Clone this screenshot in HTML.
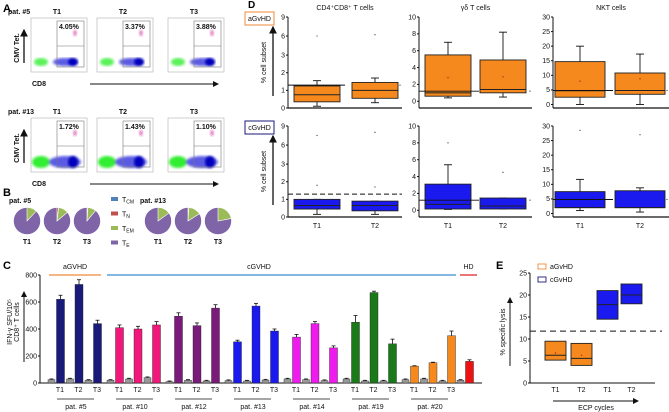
<!DOCTYPE html>
<html><head><meta charset="utf-8"><style>
body{margin:0;background:#fff}
svg{display:block;font-family:"Liberation Sans",sans-serif}
.t{font-size:7px;fill:#111}
.b{font-weight:bold}
</style></head><body>
<svg id="s" width="669" height="412" viewBox="0 0 669 412">
<defs>
<marker id="ah" markerWidth="6" markerHeight="6" refX="5" refY="3" orient="auto"><path d="M0,0 L6,3 L0,6z" fill="#111"/></marker>
<filter id="bl"><feGaussianBlur stdDeviation="1.2"/></filter>
</defs>
<text x="3" y="12" font-size="11" font-weight="bold">A</text>
<text x="3" y="196" font-size="11" font-weight="bold">B</text>
<text x="3" y="269" font-size="11" font-weight="bold">C</text>
<text x="248" y="8" font-size="10" font-weight="bold">D</text>
<text x="496" y="269" font-size="11" font-weight="bold">E</text>
<g id="A"></g><g id="B"></g><g id="C"></g><g id="D"></g><g id="E"></g>
</svg>
<script>
// ---------- Panel A data ----------
const flowPatients=["pat. #5","pat. #13"];
const flowTimes=["T1","T2","T3"];
const flowPct=[["4.05%","3.37%","3.88%"],["1.72%","1.43%","1.10%"]];
// ---------- Panel B data ----------
const pieLegend=["TCM","TN","TEM","TE"];
const pieTN=[[0,2,1],[0,1,0]];
const pieTEM=[[12,12,10],[15,15,22]];
// ---------- Panel C data ----------
const cPatients=["pat. #5","pat. #10","pat. #12","pat. #13","pat. #14","pat. #19","pat. #20"];
const cStim=[[620,730,440],[410,400,430],[495,425,555],[305,570,385],[340,440,260],[450,670,290],[125,150,350]];
const cErr=[[30,35,25],[20,20,25],[25,20,25],[12,20,15],[20,15,15],[50,10,35],[3,4,35]];
const cCtrl=[[25,30,20],[20,30,40],[10,20,15],[18,15,22],[30,25,18],[30,15,15],[25,30,15]];
const cHD=[160]; const cHDctrl=[20];
const cTicks=[0,200,400,600,800];
// ---------- Panel D data ----------
const dTitles=["CD4⁺CD8⁺ T cells","γδ T cells","NKT cells"];
const dAcute=[[[0.1,0.35,0.75,1.25,1.55],[0.3,0.55,1.0,1.45,1.7]],
 [[0.4,0.6,1.0,5.5,7.0,2.8],[0.5,1.0,1.4,4.9,8.2,2.9]],
 [[0,2.5,4.7,14.7,20,8],[0,3.5,4.8,10.8,17.3,8.8]]];
const dChronic=[[[0.15,0.45,0.65,1.0,1.0],[0.15,0.35,0.65,0.9,0.9]],
 [[0.1,0.15,0.7,3.1,5.4],[0.15,0.15,0.5,1.45,1.45]],
 [[1,2,2,7.5,11.7],[0.5,2,2,7.8,8.8]]];
const dOutA=[[[6],[6.2]],[[],[]],[[],[]]];
const dOutC=[[[1.8,7.5],[1.7,8]],[[8],[4.5]],[[28.5],[27]]];
const dHD=[1.3,1.2,4.8];
const dTicks=[[0,1,2,3,6,9],[0,2,4,6,8,10],[0,5,10,15,20,25,30]];
// ---------- Panel E data ----------
const eGroups=["aGvHD","aGvHD","cGvHD","cGvHD"];
const eLabels=["T1","T2","T1","T2"];
const eBox=[[5.2,6.3,9.5],[4,5.6,9],[14.5,17.8,21],[18,20,22.5]];
const eMean=[6.8,6.3];
const eTicks=[0,5,10,15,20,25];
const eHD=[11.8];

const NS="http://www.w3.org/2000/svg";
function mk(p,tag,a,txt){const e=document.createElementNS(NS,tag);for(const k in a)e.setAttribute(k,a[k]);if(txt!=null)e.textContent=txt;p.appendChild(e);return e;}

// ===== Panel A =====
const A=document.getElementById('A');
const plotX=[31,97,168], plotY=[18,118], pw=56, ph=54;
flowPatients.forEach((p,r)=>{
 let e=mk(A,'text',{x:8,y:plotY[r]-4,class:'t b','font-size':7},p);
 
 e=mk(A,'line',{x1:24,y1:plotY[r]+45,x2:24,y2:plotY[r]+12,stroke:'#111','stroke-width':1.3,'marker-end':'url(#ah)'});
 
 e=mk(A,'text',{x:0,y:0,class:'t b',transform:`translate(19,${plotY[r]+30}) rotate(-90)`,'text-anchor':'middle'},'CMV Tet.');
 
 e=mk(A,'line',{x1:90,y1:plotY[r]+66,x2:218,y2:plotY[r]+66,stroke:'#111','stroke-width':1,'marker-end':'url(#ah)'});
 
 e=mk(A,'text',{x:32,y:plotY[r]+68,class:'t b'},'CD8');
 
 flowTimes.forEach((t,c)=>{
  const x=plotX[c],y=plotY[r];
  const g=mk(A,'g',{});
  mk(g,'text',{x:x+pw/2-2,y:y-4,class:'t b','text-anchor':'middle'},t);
  mk(g,'rect',{x,y,width:pw,height:ph,fill:'#fff',stroke:'#bbb','stroke-width':0.7});
  const big=r==1;
  mk(g,'ellipse',{cx:x+10,cy:y+ph-10,rx:big?9:7,ry:big?6:4,fill:'#33ee33',filter:'url(#bl)',opacity:big?1:0.8});
  mk(g,'ellipse',{cx:x+34,cy:y+ph-10,rx:big?16:12,ry:big?6:4,fill:'#3333dd',filter:'url(#bl)',opacity:0.8});
  mk(g,'ellipse',{cx:x+42,cy:y+ph-10,rx:5,ry:big?6:4,fill:'#0000bb',filter:'url(#bl)'});
  mk(g,'ellipse',{cx:x+44,cy:y+15,rx:2,ry:3,fill:'#e080c0',filter:'url(#bl)'});
  mk(g,'rect',{x:x+26,y:y+3,width:27,height:46,fill:'none',stroke:'#777','stroke-width':0.6});
  mk(g,'line',{x1:x+26,y1:y+28,x2:x+53,y2:y+28,stroke:'#777','stroke-width':0.6});
  mk(g,'text',{x:x+28,y:y+11,class:'t b'},flowPct[r][c]);
 });
});

// ===== Panel B =====
const B=document.getElementById('B');
const pieCx=[[27,57,87],[158,188,218]], pieCy=221, pr=13.5;
function arcPath(cx,cy,r,a0,a1){const p=a=>[cx+r*Math.sin(a*2*Math.PI/100),cy-r*Math.cos(a*2*Math.PI/100)];const[s0,s1]=p(a0),[e0,e1]=p(a1);return `M${cx},${cy} L${s0},${s1} A${r},${r} 0 ${a1-a0>50?1:0} 1 ${e0},${e1}Z`;}
flowPatients.forEach((p,r)=>{
 let e=mk(B,'text',{x:pieCx[r][0]-18,y:203,class:'t b'},p);
 
 flowTimes.forEach((t,c)=>{
  const cx=pieCx[r][c];const g=mk(B,'g',{});
  
  const tn=pieTN[r][c],tem=pieTEM[r][c];
  mk(g,'circle',{cx,cy:pieCy,r:pr,fill:'#8064a8',stroke:'#fff','stroke-width':0.5});
  if(tn>0)mk(g,'path',{d:arcPath(cx,pieCy,pr,0,tn),fill:'#c0504d',stroke:'#fff','stroke-width':0.6});
  mk(g,'path',{d:arcPath(cx,pieCy,pr,tn,tn+tem),fill:'#9bbb59',stroke:'#fff','stroke-width':0.6});
  mk(g,'text',{x:cx,y:244,class:'t b','text-anchor':'middle'},t);
 });
});
const legCols=['#4f81bd','#c0504d','#9bbb59','#8064a8'],legSub=['CM','N','EM','E'];
pieLegend.forEach((l,i)=>{
 const y=201+i*14.5;const g=mk(B,'g',{});
 
 mk(g,'rect',{x:111,y:y-4,width:7,height:4,fill:legCols[i]});
 const t=mk(g,'text',{x:122,y:y+1,class:'t'},'T');
 mk(t,'tspan',{'font-size':5,dy:1.5},legSub[i]);
});

// ===== Panel C =====
const C=document.getElementById('C');
const cx0=40,cy0=383,cyTop=275;
const cY=v=>cy0-(v/800)*(cy0-cyTop);
const cGX=i=>48+i*59;
const cCols=['#1a1a7a','#f0187a','#7a1a7a','#1a1aee','#ee1aee','#1a7a1a','#f5891e'];
let e=mk(C,'line',{x1:cx0,y1:cyTop,x2:cx0,y2:cy0,stroke:'#111','stroke-width':1});

e=mk(C,'line',{x1:cx0,y1:cy0,x2:482,y2:cy0,stroke:'#111','stroke-width':1});

cTicks.forEach(v=>{
 e=mk(C,'text',{x:cx0-3,y:cY(v)+2.5,class:'t','text-anchor':'end'},v);
 
 mk(C,'line',{x1:cx0-2,y1:cY(v),x2:cx0,y2:cY(v),stroke:'#111'});
});
e=mk(C,'text',{x:0,y:0,class:'t','font-size':6.5,transform:'translate(12,322) rotate(-90)','text-anchor':'middle'},'IFN-γ SFU/10⁵');

e=mk(C,'text',{x:0,y:0,class:'t','font-size':6.5,transform:'translate(19,322) rotate(-90)','text-anchor':'middle'},'CD8⁺ T cells');

e=mk(C,'line',{x1:24,y1:362,x2:24,y2:292,stroke:'#111','stroke-width':1,'marker-end':'url(#ah)'});

function cBar(x,v,err,col,w,name){
 const b=mk(C,'rect',{x,y:cY(v),width:w,height:cy0-cY(v),fill:col,stroke:'#222','stroke-width':0.4});
 
 const m=x+w/2;
 mk(C,'line',{x1:m,y1:cY(v+err),x2:m,y2:cY(v),stroke:'#111','stroke-width':0.8});
 mk(C,'line',{x1:m-2,y1:cY(v+err),x2:m+2,y2:cY(v+err),stroke:'#111','stroke-width':0.8});
}
cPatients.forEach((p,i)=>{
 const gx=cGX(i);
 for(let j=0;j<3;j++){
  const x=gx+j*18.5;
  cBar(x,cCtrl[i][j],5,'#999',7,'control-bar');
  cBar(x+8.5,cStim[i][j],cErr[i][j],cCols[i],8,'ifn-bar');
  e=mk(C,'text',{x:x+12,y:392,class:'t','text-anchor':'middle'},flowTimes[j]);
  
 }
 mk(C,'line',{x1:gx+9,y1:399,x2:gx+46,y2:399,stroke:'#111','stroke-width':0.8});
 e=mk(C,'text',{x:gx+28,y:409,class:'t','text-anchor':'middle'},p);
 
});
cBar(cGX(7)-4,cHDctrl[0],5,'#999',7,'hd-control-bar');
cBar(cGX(7)+4.5,cHD[0],12,'#ee1111',8,'hd-bar');
[['aGVHD','#f08a3a',49,101],['cGVHD','#3a8ed0',107,456],['HD','#e02020',460,477]].forEach(([t,c,x1,x2])=>{
 const g=mk(C,'g',{});
 mk(g,'line',{x1,y1:275,x2,y2:275,stroke:c,'stroke-width':1.3});
 mk(g,'text',{x:t=='cGVHD'?259:(x1+x2)/2,y:269,class:'t','text-anchor':'middle'},t);
});

// ===== Panel D =====
const D=document.getElementById('D');
const dAx=[288,419,553],dRight=[402,532,669],rowTop=[17,126],rowBot=[108,217];
const dBoxX=[[294,352],[425,480],[555,615]],dBoxW=[46,46,50];
function dScale(k,v,r){
 const top=rowTop[r],bot=rowBot[r];
 if(k==0){const unit=(bot-top)/(3+6*0.36);
  return v<=3?bot-v*unit:bot-3*unit-(v-3)*unit*0.36;}
 const max=k==1?10:30,min=k==1?-0.8:-1.2;
 return bot-(v-min)/(max-min)*(bot-top);
}
[['aGvHD','#f08a3a',dAcute,dOutA,'#f5891e'],['cGvHD','#1a1a7a',dChronic,dOutC,'#1a1aee']].forEach(([gn,bc,data,outs,fill],r)=>{
 let e=mk(D,'rect',{x:245,y:rowTop[r]-5,width:29,height:13,fill:'#fff',stroke:bc,'stroke-width':1});
 
 mk(D,'text',{x:259.5,y:rowTop[r]+4,class:'t','text-anchor':'middle','font-size':6.5},gn);
 e=mk(D,'line',{x1:273,y1:rowBot[r]-12,x2:273,y2:rowTop[r]+10,stroke:'#111','stroke-width':1.3,'marker-end':'url(#ah)'});
 
 e=mk(D,'text',{x:0,y:0,class:'t',transform:`translate(266,${(rowTop[r]+rowBot[r])/2}) rotate(-90)`,'text-anchor':'middle'},'% cell subset');
 
 for(let k=0;k<3;k++){
  const ax=dAx[k],rt=dRight[k];const S=v=>dScale(k,v,r);
  const g=mk(D,'g',{});
  if(r==0)mk(g,'text',{x:(ax+rt)/2,y:10,class:'t','text-anchor':'middle','font-size':6.5},dTitles[k]);
  mk(g,'line',{x1:ax,y1:rowTop[r],x2:ax,y2:rowBot[r],stroke:'#111'});
  mk(g,'line',{x1:ax,y1:rowBot[r],x2:rt,y2:rowBot[r],stroke:'#111','stroke-width':1.2});
  dTicks[k].forEach(t=>{
   mk(g,'line',{x1:ax-2,y1:S(t),x2:ax,y2:S(t),stroke:'#111'});
   mk(g,'text',{x:ax-3,y:S(t)+2.3,class:'t','text-anchor':'end','font-size':6.5},t);
  });
  data[k].forEach((d,j)=>{
   const x=dBoxX[k][j],w=dBoxW[k],m=x+w/2;
   const bg=mk(g,'g',{});
   mk(bg,'line',{x1:m,y1:S(d[0]),x2:m,y2:S(d[4]),stroke:'#111','stroke-width':0.9});
   [d[0],d[4]].forEach(v=>mk(bg,'line',{x1:m-4,y1:S(v),x2:m+4,y2:S(v),stroke:'#111','stroke-width':0.9}));
   mk(bg,'rect',{x,y:S(d[3]),width:w,height:S(d[1])-S(d[3]),fill:fill,stroke:'#222','stroke-width':0.9});
   mk(bg,'line',{x1:x,y1:S(d[2]),x2:x+w,y2:S(d[2]),stroke:'#222','stroke-width':1});
   if(d[5]!=null)mk(bg,'circle',{cx:m,cy:S(d[5]),r:0.7,fill:'#c02020'});
   outs[k][j].forEach(o=>mk(bg,'circle',{cx:m,cy:S(o),r:0.6,fill:'#333'}));
   if(r==1)mk(g,'text',{x:m,y:228,class:'t','text-anchor':'middle','font-size':6.5},'T'+(j+1));
  });
  const hy=S(dHD[k]);
  if(k==0)mk(g,'line',{x1:ax,y1:hy,x2:r==0?345:rt,y2:hy,stroke:'#111','stroke-width':1,'stroke-dasharray':r==0?'none':'5,3'});
  else mk(g,'line',{x1:ax,y1:hy,x2:ax+60,y2:hy,stroke:'#111','stroke-width':0.9});
  mk(g,'circle',{cx:rt-2,cy:hy,r:0.6,fill:'#333'});
 }
});

// ===== Panel E =====
const E=document.getElementById('E');
const ex0=530,ey0=383,eyTop=273;
const eY=v=>ey0-(v/25)*(ey0-eyTop);
const eX=[545,571,597,621],eW=21;
e=mk(E,'line',{x1:ex0,y1:eyTop,x2:ex0,y2:ey0,stroke:'#111'});

e=mk(E,'line',{x1:ex0,y1:ey0,x2:655,y2:ey0,stroke:'#111'});

eTicks.forEach(t=>{
 mk(E,'line',{x1:ex0-2,y1:eY(t),x2:ex0,y2:eY(t),stroke:'#111'});
 e=mk(E,'text',{x:ex0-3,y:eY(t)+2.3,class:'t','text-anchor':'end','font-size':6.5},t);
 
});
e=mk(E,'line',{x1:ex0,y1:eY(eHD[0]),x2:662,y2:eY(eHD[0]),stroke:'#111','stroke-width':1,'stroke-dasharray':'6,4'});

eBox.forEach((b,i)=>{
 const ac=eGroups[i]=='aGvHD';
 const r=mk(E,'rect',{x:eX[i],y:eY(b[2]),width:eW,height:eY(b[0])-eY(b[2]),fill:ac?'#f5891e':'#1a1aee',stroke:'#222','stroke-width':0.9});
 
 mk(E,'line',{x1:eX[i],y1:eY(b[1]),x2:eX[i]+eW,y2:eY(b[1]),stroke:'#222','stroke-width':1});
 if(ac)mk(E,'circle',{cx:eX[i]+eW/2,cy:eY(eMean[i]),r:0.7,fill:'#c02020'});
 e=mk(E,'text',{x:eX[i]+eW/2,y:392,class:'t','text-anchor':'middle','font-size':6.5},eLabels[i]);
 
});
e=mk(E,'text',{x:0,y:0,class:'t','font-size':6.5,transform:'translate(505,332) rotate(-90)','text-anchor':'middle'},'% specific lysis');

e=mk(E,'line',{x1:510,y1:366,x2:510,y2:298,stroke:'#111','stroke-width':1,'marker-end':'url(#ah)'});

e=mk(E,'line',{x1:553,y1:401,x2:638,y2:401,stroke:'#111','stroke-width':1,'marker-end':'url(#ah)'});

e=mk(E,'text',{x:596,y:410,class:'t','font-size':6.5,'text-anchor':'middle'},'ECP cycles');

[['aGvHD','#f08a3a',268],['cGvHD','#1a1a7a',281]].forEach(([t,c,y])=>{
 const g=mk(E,'g',{});
 mk(g,'rect',{x:538,y:y-4,width:8,height:5,fill:'#fff',stroke:c,'stroke-width':0.9});
 mk(g,'text',{x:550,y:y+1,class:'t','font-size':6.5},t);
});
</script>
</body></html>
